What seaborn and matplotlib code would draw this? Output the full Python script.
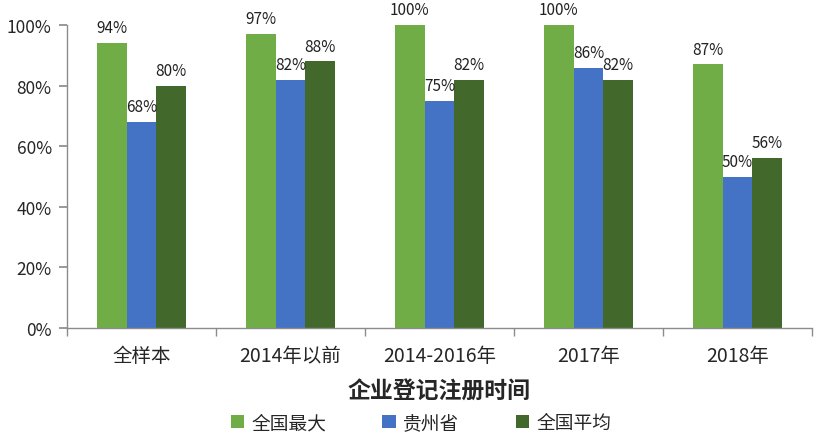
import pandas as pd
import matplotlib.pyplot as plt
import seaborn as sns
import numpy as np
from matplotlib.ticker import PercentFormatter, FixedLocator

# 数据
categories = ['全样本', '2014年以前', '2014-2016年', '2017年', '2018年']
series_names = ['全国最大', '贵州省', '全国平均']
max_vals = [0.94, 0.97, 1.00, 1.00, 0.87]
gz_vals = [0.68, 0.82, 0.75, 0.86, 0.50]
avg_vals = [0.80, 0.88, 0.82, 0.82, 0.56]
colors = ['#70AD47', '#4472C4', '#43682B']

df = pd.DataFrame({
    '时间': categories * 3,
    '系列': np.repeat(series_names, len(categories)),
    '比例': max_vals + gz_vals + avg_vals,
})

sns.set_theme(style="white")
plt.rcParams['font.family'] = ['Noto Sans CJK SC', 'DejaVu Sans']

fig = plt.figure(figsize=(8.16, 4.35), dpi=100)
ax = fig.add_axes([0.0821, 0.2437, 0.913, 0.6963])
sns.barplot(data=df, x='时间', y='比例', hue='系列', palette=colors,
            width=0.6, saturation=1, linewidth=0, ax=ax, legend=True)

ax.set_ylim(0, 1)
ax.set_xlim(-0.5, len(categories) - 0.5)
ax.yaxis.set_major_locator(FixedLocator(np.arange(0, 1.01, 0.2)))
ax.yaxis.set_major_formatter(PercentFormatter(1.0, decimals=0))

# 数据标签
for cont in ax.containers:
    ax.bar_label(cont, labels=[f'{v*100:.0f}%' for v in cont.datavalues],
                 padding=5, fontsize=11, color='#222222', clip_on=False)

for s in ['top', 'right']:
    ax.spines[s].set_visible(False)
for s in ['left', 'bottom']:
    ax.spines[s].set_color('#8c8c8c')
    ax.spines[s].set_linewidth(1)

ax.tick_params(axis='y', which='major', length=6, color='#8c8c8c', direction='out',
               labelsize=12.5, pad=5, left=True)
ax.tick_params(axis='x', which='major', length=0, labelsize=14, pad=12)
ax.set_xticks(np.arange(-0.5, len(categories)), minor=True)
ax.tick_params(axis='x', which='minor', length=6, color='#8c8c8c', direction='out', bottom=True)

ax.set_ylabel('')
ax.set_xlabel('企业登记注册时间', fontsize=16.5, fontweight='bold', labelpad=10)

ax.legend(loc='upper center', bbox_to_anchor=(0.475, -0.247), ncol=3, frameon=False,
          fontsize=13.5, handlelength=0.7, handleheight=0.7, columnspacing=3.0,
          handletextpad=0.4, borderpad=0)

fig.savefig('out.png', dpi=100)
